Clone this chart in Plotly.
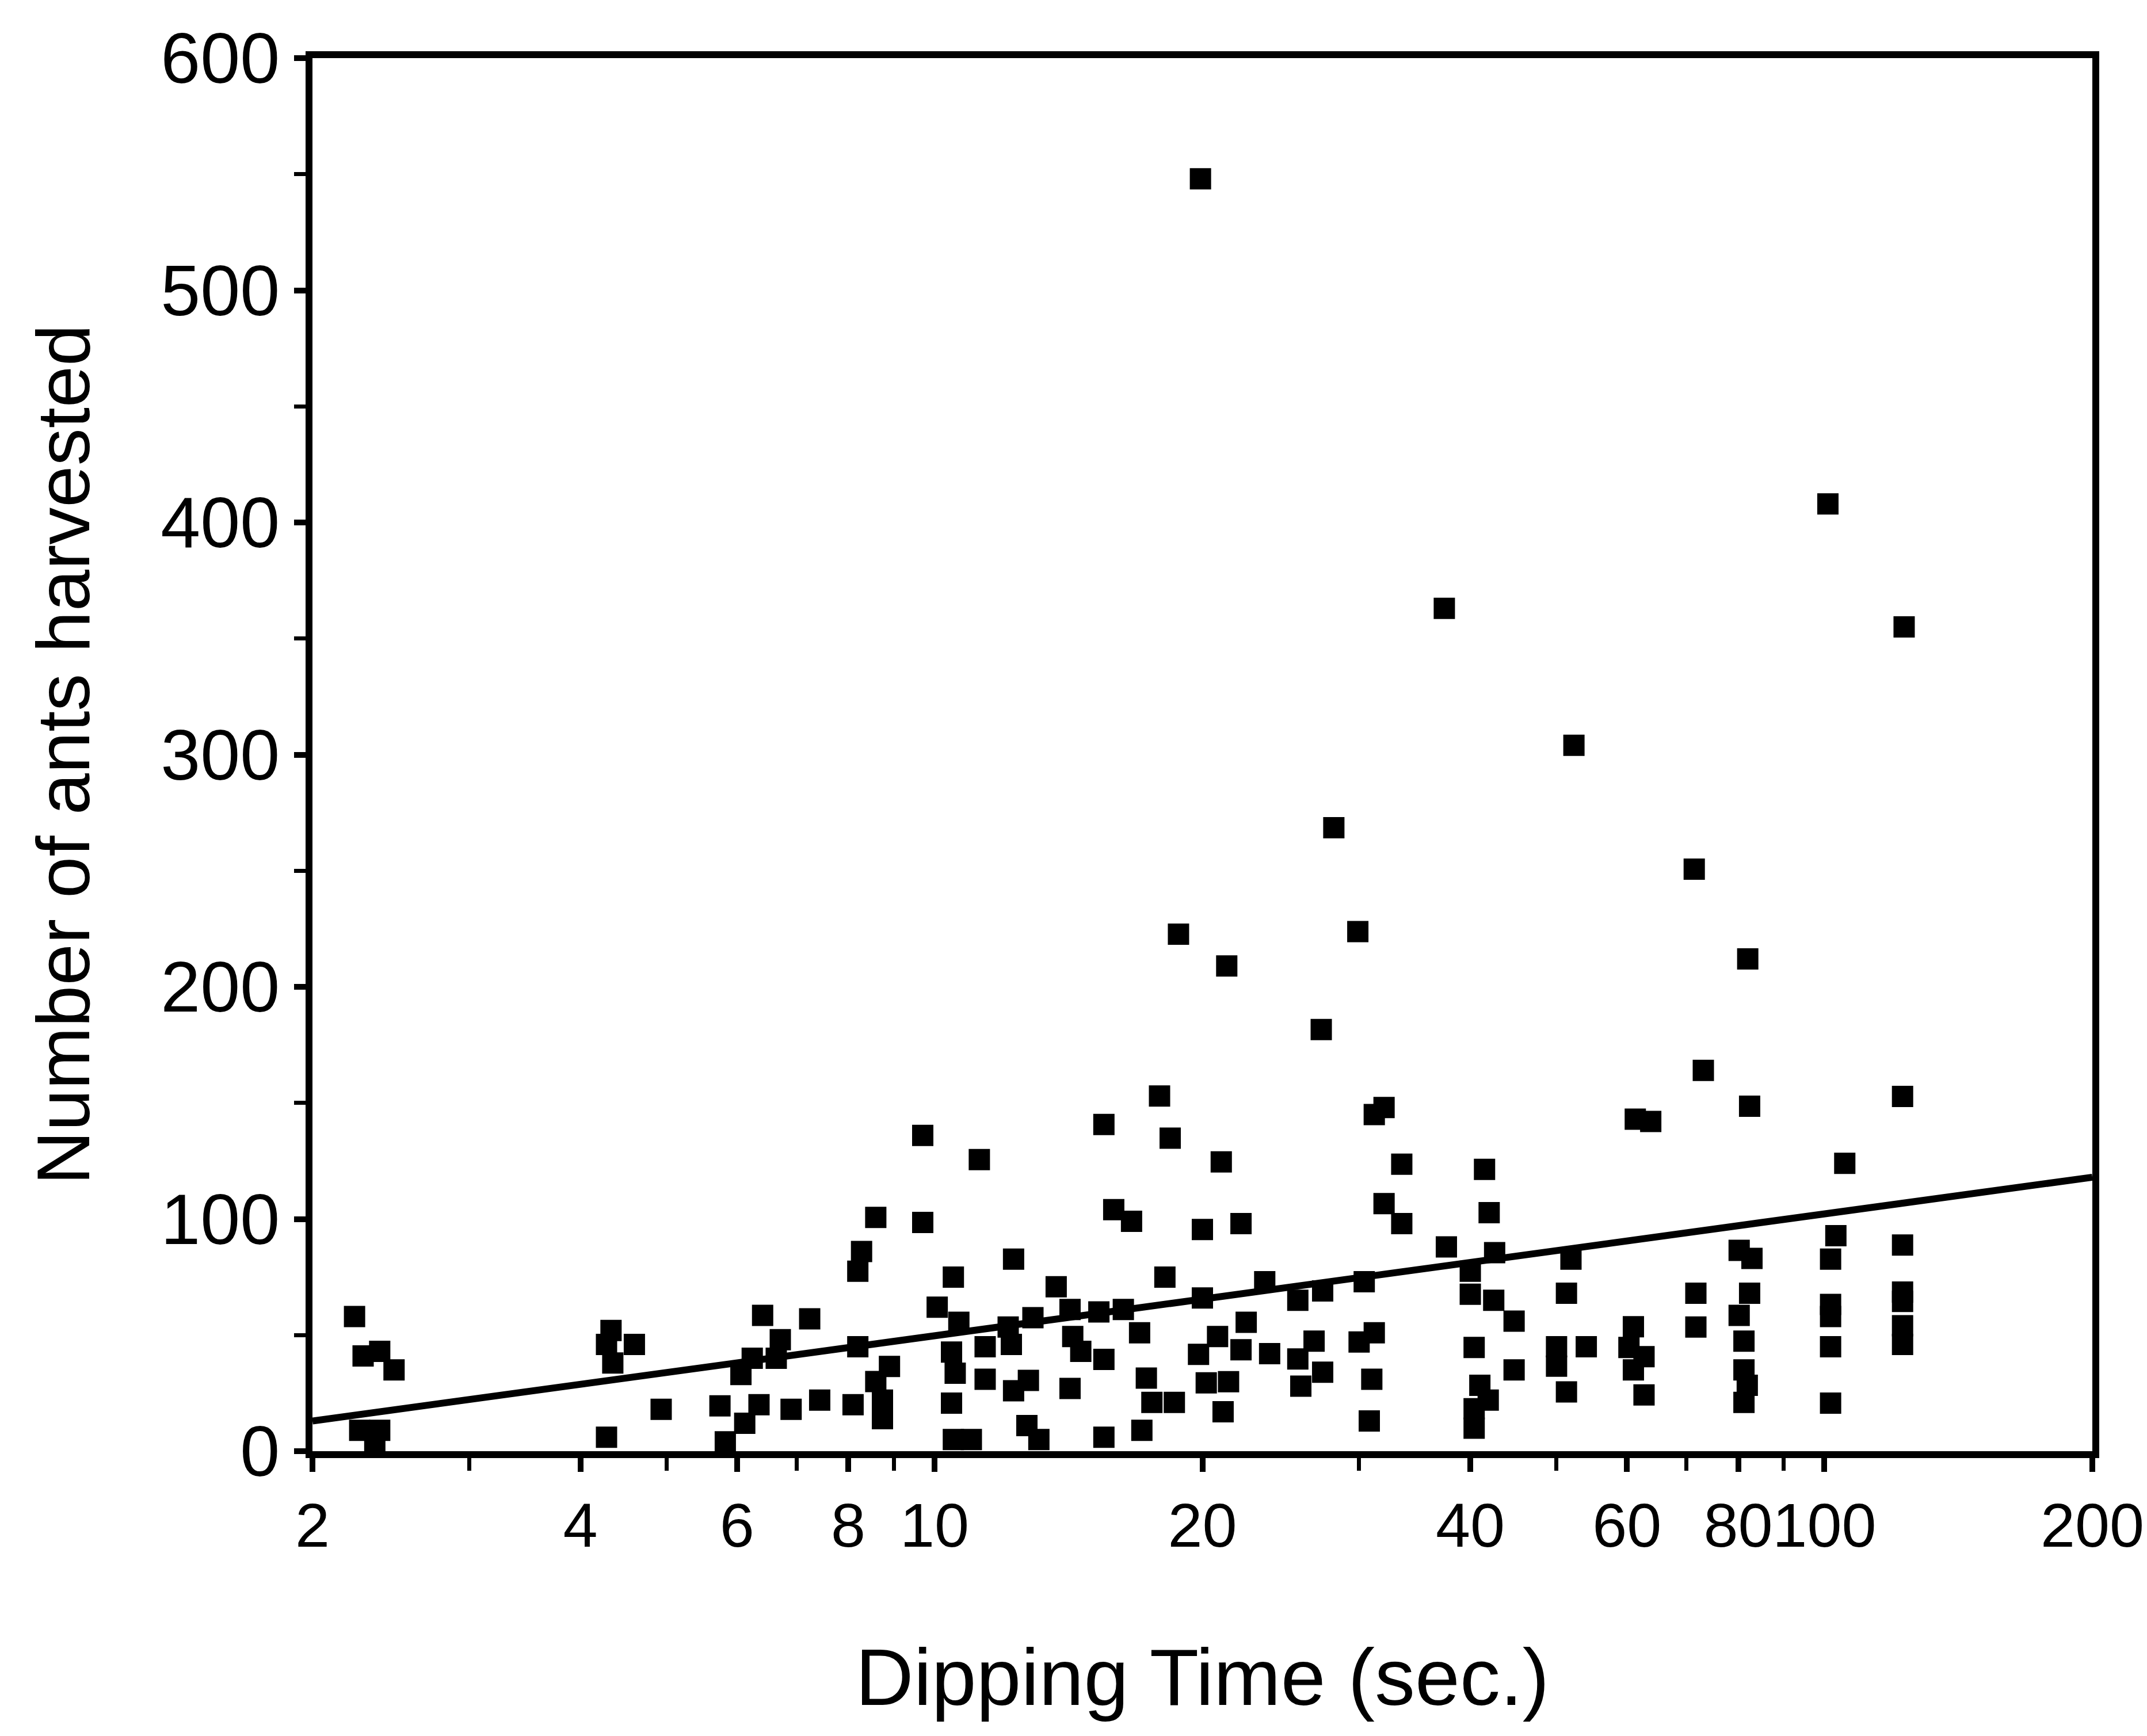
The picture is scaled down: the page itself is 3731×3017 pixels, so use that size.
import math
import plotly.graph_objects as go

# Dipping time (sec.) and number of ants harvested
dip_time = [
    2.23, 2.28, 2.38, 2.47, 2.26, 2.38, 2.35, 4.33, 4.28, 4.35, 4.6, 4.28, 4.93,
    5.74, 6.35, 6.12, 5.82, 6.9, 7.43, 8.1, 6.41, 6.71, 6.64, 6.06, 6.24, 7.24,
    8.2, 8.9, 8.59, 8.74, 8.74, 9.7, 11.23, 8.59, 9.7, 8.28, 8.2, 10.5, 12.27,
    10.07, 10.65, 10.45, 10.55, 11.4, 11.4, 12.1, 12.2, 12.27, 12.9, 10.45, 12.7,
    10.5, 11.0, 12.75, 13.1,
    17.9, 15.5, 18.4, 21.0, 31.2, 32.0, 33.5, 32.0, 33.5, 15.9, 16.65, 20.0, 22.1,
    18.15, 13.7, 14.2, 15.3, 16.3, 14.3, 14.6, 17.0, 15.5, 20.0, 23.5, 25.6, 27.3,
    30.4, 20.8, 19.8, 20.2, 21.4, 22.4, 22.1, 23.8, 26.7, 25.6, 25.8, 27.3, 30.0,
    31.2, 31.0, 30.8, 14.2, 17.3, 17.55, 18.6, 17.1, 21.1, 15.5,
    61.3, 63.8, 82.4, 41.5, 42.0, 37.6, 42.6, 40.0, 51.9, 80.2, 82.9, 51.3, 71.7,
    82.4, 40.0, 42.5, 44.8, 71.7, 80.2, 81.2, 81.2, 81.9, 81.2, 40.4, 44.8, 41.0,
    41.9, 40.4, 40.4, 50.0, 50.0, 54.0, 51.3, 61.0, 60.3, 62.7, 62.7, 61.0,
    122.4, 105.4, 103.0, 101.6, 101.6, 101.6, 101.6, 101.6, 122.4, 122.4, 122.4,
    122.4, 122.4,
    19.9, 100.9, 37.4, 122.9, 52.3, 28.1, 71.4, 29.9, 18.8, 21.3, 82.0, 27.2, 73.1,
]
ants = [
    58, 41, 43, 35, 9, 9, 4, 52, 46, 38, 46, 6, 18,
    19.5, 20, 12, 4, 18, 22, 20, 58.5, 48, 40, 33, 40, 57,
    45, 36.5, 30, 22, 14, 136, 125.6, 100.7, 98.5, 86, 77.5, 75, 82.7,
    62, 55.5, 42.7, 33.6, 45, 31, 53.5, 46, 26, 57.5, 20.7, 11,
    5, 5, 30.5, 5,
    153, 140.7, 134.8, 124.6, 145, 148, 123.6, 106.6, 98, 104, 99, 95.5, 98,
    75, 70.8, 61, 60, 61, 49.4, 43, 51, 39.5, 66, 73, 65, 69,
    73, 49.4, 41.7, 29.4, 29.9, 55.5, 43.7, 42, 47.4, 39.7, 28, 34, 47,
    51, 31, 13, 27, 31.5, 21, 21, 9, 17, 6,
    143, 142, 148.6, 121.4, 102.7, 88, 85.5, 77.5, 82.7, 86.5, 83, 68, 68,
    68, 67.6, 65, 56, 53.5, 58.5, 47.4, 35, 28.4, 21, 44.7, 35, 28.4,
    22, 18.3, 9.9, 45, 36.6, 45, 25.5, 53.6, 44.7, 40.7, 24.2, 35,
    152.8, 124, 92.8, 82.7, 63.2, 58, 45, 20.7, 88.8, 68.5, 64.5,
    54, 46,
    548, 408, 363, 355, 304, 268.5, 250.7, 223.8, 222.7, 209, 212, 181.6, 164,
]

# Fitted regression line end points
fit_time = [2, 200]
fit_ants = [13, 118]

# Axis ticks
x_major = [2, 4, 6, 8, 10, 20, 40, 60, 80, 100, 200]
x_major_text = ["2", "4", "6", "8", "10", "20", "40", "60", "80", "100", "200"]
x_minor = [3, 5, 7, 9, 30, 50, 70, 90]
y_major = [0, 100, 200, 300, 400, 500, 600]
y_major_text = ["0", "100", "200", "300", "400", "500", "600"]
y_minor = [50, 150, 250, 350, 450, 550]

FONT = "Liberation Sans, Arial, Helvetica, sans-serif"

fig = go.Figure()
fig.add_trace(go.Scatter(
    x=dip_time, y=ants, mode="markers",
    marker=dict(symbol="square", size=37, color="black", line=dict(width=0)),
    cliponaxis=False, showlegend=False,
))
fig.add_trace(go.Scatter(
    x=fit_time, y=fit_ants, mode="lines",
    line=dict(color="black", width=12),
    showlegend=False,
))

fig.update_layout(
    width=3731, height=3017,
    paper_bgcolor="white", plot_bgcolor="white",
    margin=dict(l=535, r=103, t=93, b=503),
    font=dict(family=FONT, color="black"),
    showlegend=False,
)

fig.update_xaxes(
    type="log", range=[math.log10(2), math.log10(200)],
    tickmode="array", tickvals=x_major, ticktext=x_major_text,
    ticks="outside", ticklen=24, tickwidth=10, tickcolor="black",
    tickangle=0,
    tickfont=dict(family=FONT, size=108, color="black"),
    minor=dict(tickmode="array", tickvals=x_minor, ticks="outside",
               ticklen=22, tickwidth=7, tickcolor="black", showgrid=False),
    showline=True, linewidth=12, linecolor="black", mirror=True,
    showgrid=False, zeroline=False,
    title=dict(text="Dipping Time (sec.)",
               font=dict(family=FONT, size=140, color="black"),
               standoff=160),
)
fig.update_yaxes(
    range=[0, 600],
    tickmode="array", tickvals=y_major, ticktext=y_major_text,
    ticks="outside", ticklen=20, tickwidth=10, tickcolor="black",
    tickfont=dict(family=FONT, size=124, color="black"),
    minor=dict(tickmode="array", tickvals=y_minor, ticks="outside",
               ticklen=20, tickwidth=7, tickcolor="black", showgrid=False),
    showline=True, linewidth=12, linecolor="black", mirror=True,
    showgrid=False, zeroline=False,
    title=dict(text="Number of ants harvested",
               font=dict(family=FONT, size=130, color="black"),
               standoff=85),
)

fig.write_html("out.html")
